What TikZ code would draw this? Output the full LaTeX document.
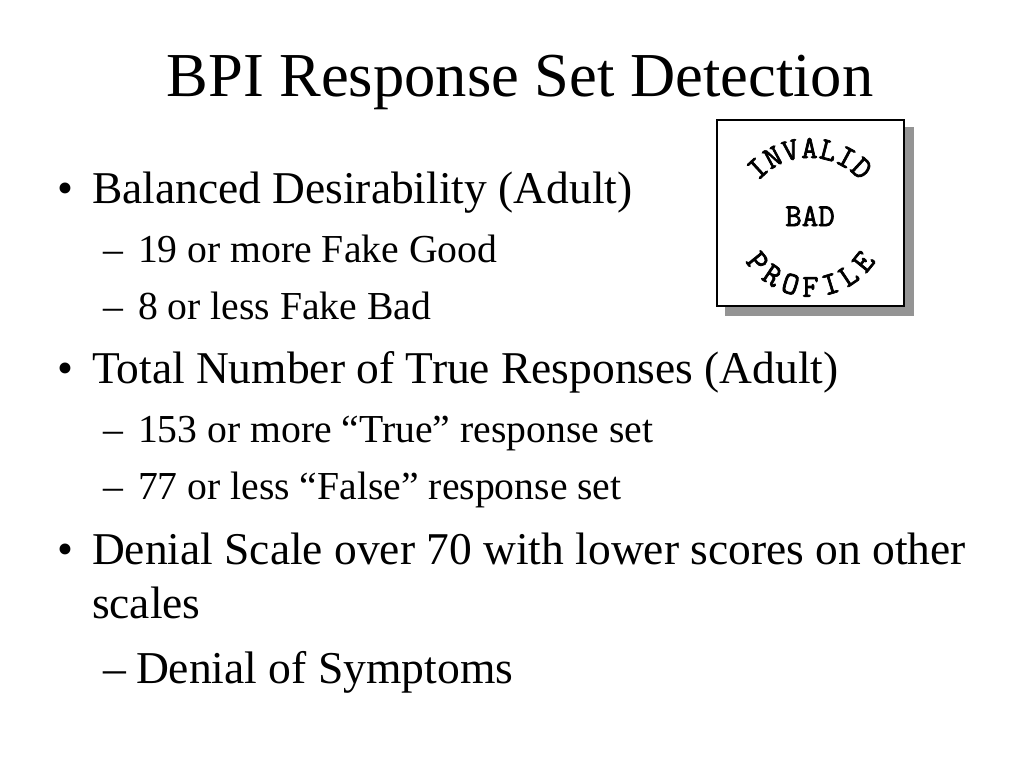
\documentclass[tikz,border=0pt]{standalone}
\usepackage{fontspec}
\setmainfont{Liberation Serif}
\newfontfamily\stampfont[FakeBold=2.2]{Latin Modern Mono}
\tikzset{
 txt/.style={anchor=base west,inner sep=0pt,outer sep=0pt,text=black},
 lvlone/.style={txt,font=\fontsize{34.1pt}{34.1pt}\selectfont},
 lvltwo/.style={txt,font=\fontsize{29.75pt}{29.75pt}\selectfont},
 lvlthree/.style={txt,font=\fontsize{34.2pt}{34.2pt}\selectfont},
 stamp/.style={inner sep=0pt,font=\fontsize{24pt}{24pt}\selectfont\stampfont}
}
\begin{document}
\begin{tikzpicture}[x=0.75pt,y=-0.75pt]
\useasboundingbox (0,0) rectangle (1024,768);
\node[txt,anchor=base,font=\fontsize{46.9pt}{46.9pt}\selectfont] (title) at (520,96.5) {BPI Response Set Detection};
\node[lvlone] (b1) at (57,203.5) {•};
\node[lvlone] (t1) at (92,203.5) {Balanced Desirability (Adult)};
\node[lvltwo] (d1) at (103,262.5) {–};
\node[lvltwo] (t1a) at (138,262.5) {19 or more Fake Good};
\node[lvltwo] (d2) at (103,319.5) {–};
\node[lvltwo] (t1b) at (138,319.5) {8 or less Fake Bad};
\node[lvlone] (b2) at (57,383.5) {•};
\node[lvlone] (t2) at (92,383.5) {Total Number of True Responses (Adult)};
\node[lvltwo] (d3) at (103,442.5) {–};
\node[lvltwo] (t2a) at (138,442.5) {153 or more “True” response set};
\node[lvltwo] (d4) at (103,499.5) {–};
\node[lvltwo] (t2b) at (138,499.5) {77 or less “False” response set};
\node[lvlone] (b3) at (57,564.5) {•};
\node[lvlone] (t3) at (92,564.5) {Denial Scale over 70 with lower scores on other};
\node[lvlone] (t3b) at (92,618.5) {scales};
\node[lvlthree] (d5) at (103,683.5) {–};
\node[lvlthree] (t3a) at (136,683.5) {Denial of Symptoms};
\fill[black!42] (725,127) rectangle (914,316);
\draw[black,line width=0.8pt,fill=white] (717,120) rectangle (904,306);
\node[stamp] (bad) at (810,216) {BAD};
\foreach \ch [count=\i from -3] in {I,N,V,A,L,I,D} {
  \pgfmathsetmacro{\ang}{14.2*\i}
  \node[stamp,rotate=-\ang] (top\i) at ({809.5+77*sin(\ang)},{225-77*cos(\ang)}) {\ch};
}
\foreach \ch [count=\i from -3] in {P,R,O,F,I,L,E} {
  \pgfmathsetmacro{\ang}{17*\i}
  \node[stamp,rotate=\ang] (bot\i) at ({810.5+68*sin(\ang)},{219+68*cos(\ang)}) {\ch};
}
\end{tikzpicture}
\end{document}
